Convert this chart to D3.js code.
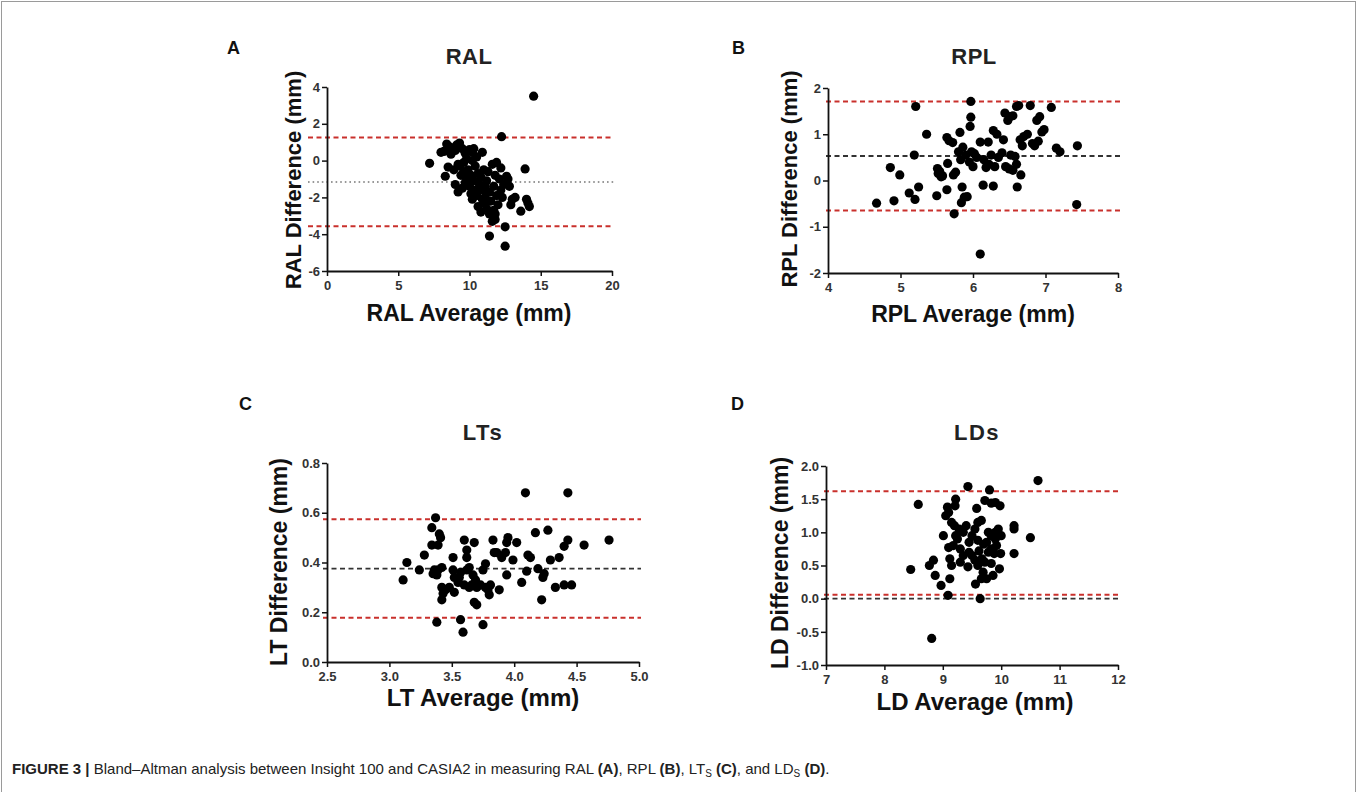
<!DOCTYPE html>
<html>
<head>
<meta charset="utf-8">
<script src="https://cdn.jsdelivr.net/npm/d3@7"></script>
<style>
  body { margin: 0; background: #fff; }
  svg text { font-family: Arial, "Liberation Sans", sans-serif; }
</style>
</head>
<body>
<div id="figure"></div>
<script>
/* ---------- data ---------- */

// A: RAL  (average, difference)
var ralPoints = [[7.2,-0.15],[8.0,0.45],[8.2,0.5],[8.4,0.9],[8.6,0.75],[8.7,0.35],[9.0,0.55],[9.1,0.85],
  [9.3,0.95],[9.5,0.65],[9.7,0.4],[10.0,0.6],[10.2,0.45],[10.3,0.65],[10.9,0.45],[9.8,0.1],[10.5,0.2],
  [8.3,-0.85],[8.5,-0.35],[8.9,-0.5],[9.2,-0.2],[9.0,-1.3],[9.2,-1.7],[9.4,-0.8],[9.6,-0.6],[9.8,-1.0],
  [9.9,-0.5],[10.0,-1.4],[10.1,-0.8],[10.3,-1.1],[10.4,-0.3],[10.6,-0.7],[10.7,-1.3],[10.8,-0.9],
  [10.9,-1.6],[11.0,-0.5],[11.1,-2.0],[11.2,-1.1],[11.3,-0.6],[11.4,-1.7],[11.5,-2.2],[11.6,-0.2],
  [11.7,-1.4],[11.8,-0.8],[11.9,-0.1],[11.9,-1.9],[12.0,-2.4],[12.1,-1.0],[12.2,-1.6],[12.3,-2.0],
  [10.5,-1.9],[10.6,-2.5],[10.8,-2.8],[11.0,-2.3],[11.2,-2.6],[11.4,-2.9],[11.7,-2.7],[11.8,-2.9],
  [11.6,-3.3],[11.8,-3.2],[12.4,-1.3],[12.6,-0.85],[12.7,-1.0],[12.8,-1.4],[12.9,-2.4],[13.0,-2.1],
  [13.2,-2.0],[13.6,-2.75],[14.0,-2.1],[14.2,-2.5],[14.1,-2.3],[13.9,-0.45],[12.25,1.3],[14.5,3.5],
  [11.4,-4.1],[12.5,-4.65],[12.5,-3.6],[10.2,-2.1],[9.5,-1.5],[9.7,-1.2],[10.1,-1.8],[10.4,-1.6],
  [10.9,-2.1],[11.1,-1.4],[12.2,-0.4],[9.3,-0.3],[9.6,-0.1],[10.2,0.0]];
var ralLimits = [1.25, -3.57];
var ralMean = -1.16;

// B: RPL
var rplPoints = [[4.67,-0.49],[4.86,0.28],[4.91,-0.44],[4.99,0.12],[5.12,-0.27],[5.2,-0.41],[5.21,1.6],
  [5.19,0.55],[5.25,-0.14],[5.36,1.0],[5.5,-0.33],[5.51,0.26],[5.54,0.2],[5.56,0.08],[5.52,0.15],
  [5.64,-0.2],[5.65,0.37],[5.64,0.93],[5.67,0.86],[5.72,0.82],[5.74,-0.72],[5.73,0.12],[5.76,0.18],
  [5.82,1.04],[5.8,0.62],[5.83,0.45],[5.85,-0.14],[5.84,-0.48],[5.88,-0.36],[5.92,-0.35],[5.97,1.71],
  [5.97,1.37],[5.96,1.17],[5.86,0.72],[5.9,0.55],[5.95,0.4],[5.98,0.62],[6.02,0.58],[6.05,0.5],
  [6.1,0.83],[6.21,0.83],[6.1,-1.59],[6.14,-0.1],[6.28,-0.12],[6.15,0.45],[6.18,0.28],[6.22,0.35],
  [6.25,0.55],[6.3,0.3],[6.28,1.08],[6.33,1.0],[6.42,0.88],[6.44,1.46],[6.48,1.3],[6.51,1.38],
  [6.55,1.4],[6.63,1.62],[6.61,-0.14],[6.66,0.12],[6.65,0.88],[6.7,0.95],[6.68,0.75],[6.75,1.0],
  [6.79,1.62],[6.88,1.3],[6.92,1.38],[6.85,0.75],[6.9,0.85],[6.95,1.05],[6.98,1.1],[7.08,1.58],
  [7.15,0.7],[7.2,0.62],[7.44,0.75],[7.43,-0.52],[6.45,0.3],[6.5,0.25],[6.55,0.22],[6.52,0.55],
  [6.58,0.52],[6.6,0.35],[6.4,0.6],[6.35,0.5],[6.6,1.6],[6.0,0.3],[5.58,0.1],[6.82,0.8]];
var rplLimits = [1.71, -0.65];
var rplMean = 0.53;

// C: LTs
var ltPoints = [[3.11,0.33],[3.14,0.4],[3.24,0.37],[3.28,0.43],[3.34,0.54],[3.37,0.58],[3.35,0.355],
  [3.34,0.47],[3.39,0.47],[3.4,0.515],[3.41,0.5],[3.36,0.37],[3.39,0.37],[3.42,0.38],[3.38,0.35],
  [3.38,0.16],[3.42,0.3],[3.43,0.275],[3.42,0.25],[3.51,0.42],[3.51,0.37],[3.52,0.34],[3.48,0.3],
  [3.52,0.28],[3.57,0.17],[3.59,0.12],[3.6,0.49],[3.62,0.45],[3.62,0.42],[3.68,0.48],[3.57,0.36],
  [3.62,0.37],[3.64,0.38],[3.56,0.34],[3.6,0.31],[3.64,0.3],[3.67,0.35],[3.69,0.33],[3.66,0.31],
  [3.68,0.24],[3.7,0.23],[3.75,0.15],[3.77,0.395],[3.75,0.37],[3.73,0.31],[3.77,0.3],[3.79,0.29],
  [3.8,0.27],[3.81,0.31],[3.83,0.49],[3.84,0.44],[3.88,0.29],[3.94,0.48],[3.95,0.5],[3.93,0.44],
  [3.94,0.35],[3.99,0.41],[4.02,0.48],[4.06,0.32],[4.09,0.68],[4.1,0.365],[4.11,0.43],[4.13,0.42],
  [4.17,0.52],[4.19,0.375],[4.22,0.25],[4.23,0.34],[4.24,0.355],[4.27,0.53],[4.29,0.41],[4.33,0.3],
  [4.36,0.42],[4.4,0.465],[4.43,0.49],[4.43,0.68],[4.4,0.31],[4.46,0.31],[4.56,0.47],[4.76,0.49],
  [3.45,0.29],[3.55,0.32],[3.7,0.3],[3.86,0.44],[3.9,0.42]];
var ltLimits = [0.574, 0.178];
var ltMean = 0.375;

// D: LDs
var ldPoints = [[8.45,0.44],[8.58,1.42],[8.77,0.5],[8.84,0.58],[8.87,0.35],[8.97,0.2],[9.01,0.95],
  [9.09,0.05],[8.81,-0.6],[9.08,1.38],[9.1,1.3],[9.05,1.25],[9.15,1.15],[9.2,1.1],[9.22,1.5],
  [9.21,1.4],[9.1,0.77],[9.18,0.8],[9.12,0.6],[9.15,0.5],[9.12,0.3],[9.25,0.9],[9.3,0.75],[9.22,0.95],
  [9.28,1.05],[9.35,1.0],[9.43,1.69],[9.43,0.48],[9.45,0.85],[9.56,0.22],[9.58,1.36],[9.6,1.15],
  [9.66,1.18],[9.55,1.05],[9.64,0.0],[9.67,0.6],[9.72,0.55],[9.69,0.4],[9.66,0.3],[9.5,0.65],
  [9.8,1.64],[9.72,1.48],[9.83,1.44],[9.9,1.45],[9.98,1.4],[9.78,1.0],[9.83,0.95],[9.9,1.0],
  [9.92,0.8],[9.83,0.75],[9.78,0.7],[9.88,0.68],[9.83,0.53],[9.86,0.35],[9.97,0.45],[9.99,0.68],
  [9.75,0.85],[9.95,1.05],[10.22,1.1],[10.22,1.05],[10.22,0.68],[10.5,0.92],[10.63,1.78],
  [9.6,0.88],[9.7,0.82],[9.62,0.72],[9.5,0.95],[9.4,1.1],[9.35,0.65],[9.55,0.58],[9.75,0.3],
  [9.6,0.5],[9.9,0.9],[10.0,0.95],[9.3,0.55],[9.45,0.7]];
var ldLimits = [1.62, 0.06];
var ldMean = 0.0;

var ralXTicks = [0, 5, 10, 15, 20], ralYTicks = [-6, -4, -2, 0, 2, 4];
var rplXTicks = [4, 5, 6, 7, 8], rplYTicks = [-2, -1, 0, 1, 2];
var ltXTicks = [2.5, 3.0, 3.5, 4.0, 4.5, 5.0], ltYTicks = [0.0, 0.2, 0.4, 0.6, 0.8];
var ldXTicks = [7, 8, 9, 10, 11, 12], ldYTicks = [-1.0, -0.5, 0.0, 0.5, 1.0, 1.5, 2.0];

/* ---------- layout ---------- */
var W = 1357, H = 792;
var RED = "#c9302c";

// plain hyphen for negatives, like the original
var intFmt = function(d) { return String(d); };
var oneFmt = function(d) { return d.toFixed(1); };

var svg = d3.select("#figure").append("svg")
    .attr("width", W)
    .attr("height", H);

svg.append("rect")
    .attr("x", 1.5).attr("y", 1.5)
    .attr("width", W - 3).attr("height", H + 20)
    .attr("fill", "none")
    .attr("stroke", "#9a9a9a")
    .attr("stroke-width", 1);

var panels = [
  { letter: "A", lx: 227, ly: 54, title: "RAL", tx: 469, ty: 64,
    x0: 327, x1: 612, yT: 87, yB: 271, xd: [0, 20], yd: [-6, 4],
    xt: ralXTicks, yt: ralYTicks, xf: intFmt, yf: intFmt,
    pts: ralPoints, lim: ralLimits, mean: ralMean, meanDotted: true, ext: 19,
    xl: "RAL Average (mm)", xlx: 469, xly: 321, yl: "RAL Difference (mm)", ylx: 301, yly: 180, fs: 23 },
  { letter: "B", lx: 732, ly: 54, title: "RPL", tx: 974, ty: 64,
    x0: 828, x1: 1118, yT: 88, yB: 273, xd: [4, 8], yd: [-2, 2],
    xt: rplXTicks, yt: rplYTicks, xf: intFmt, yf: intFmt,
    pts: rplPoints, lim: rplLimits, mean: rplMean, meanDotted: false, ext: 2,
    xl: "RPL Average (mm)", xlx: 973, xly: 322, yl: "RPL Difference (mm)", ylx: 797, yly: 179, fs: 23 },
  { letter: "C", lx: 239, ly: 410, title: "LTs", tx: 483, ty: 440,
    x0: 327, x1: 639, yT: 463, yB: 662, xd: [2.5, 5.0], yd: [0, 0.8],
    xt: ltXTicks, yt: ltYTicks, xf: oneFmt, yf: oneFmt,
    pts: ltPoints, lim: ltLimits, mean: ltMean, meanDotted: false, ext: 4,
    xl: "LT Average (mm)", xlx: 483, xly: 706, yl: "LT Difference (mm)", ylx: 287, yly: 562, fs: 24 },
  { letter: "D", lx: 731, ly: 410, title: "LDs", tx: 977, ty: 440,
    x0: 826, x1: 1118, yT: 466, yB: 665, xd: [7, 12], yd: [-1, 2],
    xt: ldXTicks, yt: ldYTicks, xf: intFmt, yf: oneFmt,
    pts: ldPoints, lim: ldLimits, mean: ldMean, meanDotted: false, ext: 2,
    xl: "LD Average (mm)", xlx: 975, xly: 710, yl: "LD Difference (mm)", ylx: 788, yly: 563, fs: 24 }
];

panels.forEach(function(p) {
  var g = svg.append("g");
  var x = d3.scaleLinear().domain(p.xd).range([p.x0, p.x1]);
  var y = d3.scaleLinear().domain(p.yd).range([p.yB, p.yT]);

  // letter + title
  g.append("text").text(p.letter)
      .attr("x", p.lx).attr("y", p.ly)
      .attr("font-size", "18px").attr("font-weight", "bold").attr("fill", "#111");
  g.append("text").text(p.title)
      .attr("x", p.tx).attr("y", p.ty)
      .attr("text-anchor", "middle")
      .attr("font-size", "22px").attr("font-weight", "bold")
      .attr("letter-spacing", p.title.slice(-1) == "s" ? "1.5px" : "0.5px")
      .attr("fill", "#222");

  // limits of agreement and mean
  p.lim.forEach(function(v) {
    g.append("line")
        .attr("x1", p.x0 - p.ext).attr("x2", p.x1 + 2)
        .attr("y1", y(v)).attr("y2", y(v))
        .attr("stroke", RED).attr("stroke-width", 2)
        .attr("stroke-dasharray", "5,3.5");
  });
  g.append("line")
      .attr("x1", p.x0 - p.ext).attr("x2", p.x1 + 2)
      .attr("y1", y(p.mean)).attr("y2", y(p.mean))
      .attr("stroke", p.meanDotted ? "#777" : "#333")
      .attr("stroke-width", p.meanDotted ? 1.6 : 1.8)
      .attr("stroke-dasharray", p.meanDotted ? "1.6,3" : "5,3.5");

  // axes
  var xAxis = g.append("g")
      .attr("transform", "translate(0," + p.yB + ")")
      .call(d3.axisBottom(x).tickValues(p.xt).tickFormat(p.xf).tickSize(5).tickSizeOuter(0));
  var yAxis = g.append("g")
      .attr("transform", "translate(" + p.x0 + ",0)")
      .call(d3.axisLeft(y).tickValues(p.yt).tickFormat(p.yf).tickSize(5).tickSizeOuter(0));
  [xAxis, yAxis].forEach(function(a) {
    a.select(".domain").attr("stroke", "#111").attr("stroke-width", 1.8);
    a.selectAll(".tick line").attr("stroke", "#111").attr("stroke-width", 1.5);
    a.selectAll(".tick text")
        .attr("font-family", "Arial, 'Liberation Sans', sans-serif")
        .attr("font-size", "13px").attr("font-weight", "bold").attr("fill", "#333");
  });
  xAxis.selectAll(".tick text").attr("dy", "0.85em");
  yAxis.selectAll(".tick text").attr("x", -7);

  // points
  g.selectAll("circle.pt").data(p.pts).enter().append("circle")
      .attr("class", "pt")
      .attr("cx", function(d) { return x(d[0]); })
      .attr("cy", function(d) { return y(d[1]); })
      .attr("r", 4.6)
      .attr("fill", "#000");

  // axis titles
  g.append("text").text(p.xl)
      .attr("x", p.xlx).attr("y", p.xly)
      .attr("text-anchor", "middle")
      .attr("font-size", p.fs + "px").attr("font-weight", "bold").attr("fill", "#111");
  g.append("text").text(p.yl)
      .attr("transform", "translate(" + p.ylx + "," + p.yly + ") rotate(-90)")
      .attr("text-anchor", "middle")
      .attr("font-size", (p.fs - 1) + "px").attr("font-weight", "bold").attr("fill", "#111");
});

/* ---------- caption ---------- */
var cap = svg.append("text")
    .attr("x", 12).attr("y", 774)
    .attr("font-family", "'Liberation Sans Narrow', 'Arial Narrow', Arial, sans-serif")
    .attr("font-size", "15px").attr("fill", "#222");
var capParts = [
  ["FIGURE 3 |", "bold"], [" Bland\u2013Altman analysis between Insight 100 and CASIA2 in measuring RAL ", "normal"],
  ["(A)", "bold"], [", RPL ", "normal"], ["(B)", "bold"], [", LT", "normal"], ["S", "sub"], [" ", "normal"],
  ["(C)", "bold"], [", and LD", "normal"], ["S", "sub"], [" ", "normal"], ["(D)", "bold"], [".", "normal"]
];
capParts.forEach(function(c) {
  var t = cap.append("tspan").text(c[0]);
  if (c[1] == "bold") t.attr("font-weight", "bold");
  if (c[1] == "sub") t.attr("font-size", "10px").attr("baseline-shift", "-3");
});
</script>
</body>
</html>
